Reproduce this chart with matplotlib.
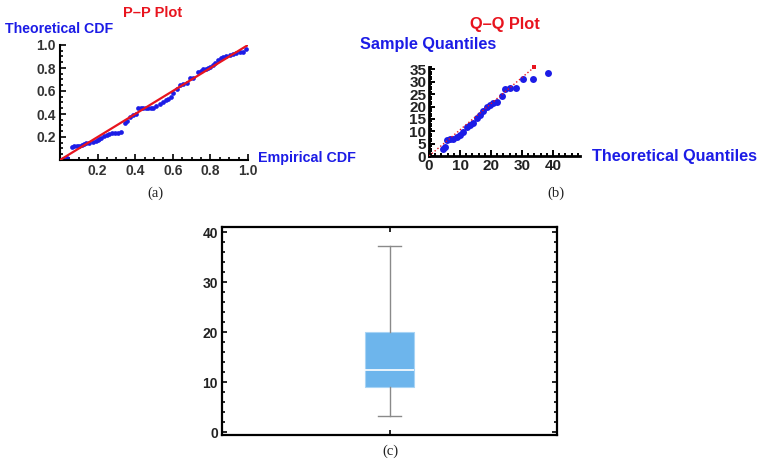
import matplotlib
matplotlib.use("Agg")
import matplotlib.pyplot as plt
from matplotlib.ticker import MultipleLocator

plt.rcParams['font.family'] = ['Liberation Sans', 'DejaVu Sans']

# P-P plot data (empirical vs theoretical CDF)
pp_emp = [0.018, 0.035, 0.062, 0.075, 0.088, 0.1, 0.115, 0.128, 0.14, 0.155,
          0.177, 0.19, 0.2, 0.21, 0.22, 0.235, 0.25, 0.262, 0.274, 0.29,
          0.31, 0.327, 0.345, 0.358, 0.37, 0.39, 0.405, 0.416, 0.43, 0.442,
          0.456, 0.469, 0.483, 0.496, 0.513, 0.53, 0.549, 0.562, 0.575, 0.59,
          0.60, 0.62, 0.637, 0.655, 0.673, 0.69, 0.71, 0.735, 0.748, 0.761,
          0.775, 0.788, 0.8, 0.814, 0.827, 0.84, 0.855, 0.867, 0.885, 0.903,
          0.92, 0.938, 0.955, 0.973, 0.991]
pp_theo = [0.006, 0.014, 0.116, 0.118, 0.122, 0.126, 0.13, 0.138, 0.145, 0.152,
           0.16, 0.168, 0.174, 0.18, 0.19, 0.205, 0.217, 0.225, 0.232, 0.232,
           0.232, 0.246, 0.32, 0.335, 0.377, 0.39, 0.40, 0.449, 0.449, 0.449,
           0.449, 0.449, 0.449, 0.455, 0.47, 0.49, 0.507, 0.518, 0.528, 0.55,
           0.58, 0.62, 0.652, 0.665, 0.667, 0.71, 0.715, 0.768, 0.775, 0.788,
           0.795, 0.797, 0.805, 0.826, 0.84, 0.87, 0.885, 0.899, 0.905, 0.913,
           0.92, 0.928, 0.935, 0.942, 0.962]
pp_line = [0, 1]

# Q-Q plot data
qq_theo = [4.4, 5.2, 5.7, 6.8, 7.8, 8.9, 10.0, 11.1, 12.2, 13.2, 14.3, 15.4, 16.5,
           17.5, 18.6, 19.7, 20.8, 21.8, 23.4, 24.5, 26.1, 28.1, 30.2, 33.4, 38.4]
qq_samp = [2.7, 3.8, 6.5, 6.8, 7.0, 7.6, 8.5, 9.9, 11.6, 12.6, 13.5, 15.3, 16.6,
           18.0, 19.7, 20.7, 21.4, 22.0, 24.3, 27.0, 27.4, 27.4, 31.1, 31.1, 33.5]
qq_line_x = [0, 34]
qq_line_y = [0, 36]

# box plot summary
box_stats = dict(whislo=3.2, q1=9.0, med=12.5, q3=20.0, whishi=37.2)

BLUE = '#1c1ce6'
RED = '#e8141e'
TICKC = '#333333'

fig = plt.figure(figsize=(7.65, 4.69), dpi=100)

def fx(px):
    return px / 765.0

def fy(py):
    return 1 - py / 469.0

# ---- (a) P-P plot
ax1 = fig.add_axes([fx(60), fy(160), fx(188), 115 / 469.0])
ax1.plot(pp_line, pp_line, color=RED, lw=1.6, zorder=3)
ax1.plot(pp_emp, pp_theo, 'o', color=BLUE, ms=3.4, mew=0, zorder=2)
ax1.set_xlim(0, 1)
ax1.set_ylim(0, 1)
ax1.set_xticks([0.2, 0.4, 0.6, 0.8, 1.0])
ax1.set_yticks([0.2, 0.4, 0.6, 0.8, 1.0])
ax1.xaxis.set_minor_locator(MultipleLocator(0.05))
ax1.yaxis.set_minor_locator(MultipleLocator(0.05))
for s in ['top', 'right']:
    ax1.spines[s].set_visible(False)
for s in ['left', 'bottom']:
    ax1.spines[s].set_linewidth(1.5)
ax1.tick_params(which='both', direction='in', width=1.2, colors='black',
                labelcolor=TICKC, labelsize=10, pad=3)
ax1.tick_params(which='major', length=4)
ax1.tick_params(which='minor', length=2)
for t in ax1.get_xticklabels() + ax1.get_yticklabels():
    t.set_fontweight('bold')

fig.text(fx(5), fy(29), 'Theoretical CDF', color=BLUE, fontsize=10.2,
         fontweight='bold', ha='left', va='center')
fig.text(fx(153), fy(13), 'P\u2013P Plot', color=RED, fontsize=10.5,
         fontweight='bold', ha='center', va='center')
fig.text(fx(258), fy(158), 'Empirical CDF', color=BLUE, fontsize=10.3,
         fontweight='bold', ha='left', va='center')

# ---- (b) Q-Q plot
ax2 = fig.add_axes([fx(429), fy(156), fx(151), 89 / 469.0])
ax2.plot(qq_line_x, qq_line_y, ':', color=RED, lw=1.0, zorder=3)
ax2.plot(qq_line_x[-1:], qq_line_y[-1:], 's', color=RED, ms=3.5, mew=0,
         clip_on=False, zorder=3)
ax2.plot(qq_theo, qq_samp, 'o', color=BLUE, ms=5, mew=0, zorder=2)
ax2.set_xlim(0, 48.7)
ax2.set_ylim(0, 36)
ax2.set_xticks([0, 10, 20, 30, 40])
ax2.set_yticks([0, 5, 10, 15, 20, 25, 30, 35])
ax2.xaxis.set_minor_locator(MultipleLocator(2))
ax2.yaxis.set_minor_locator(MultipleLocator(1))
for s in ['top', 'right']:
    ax2.spines[s].set_visible(False)
for s in ['left', 'bottom']:
    ax2.spines[s].set_linewidth(2.0)
ax2.tick_params(which='both', direction='in', width=1.4, colors='black',
                labelcolor='#222222', labelsize=11, pad=2)
ax2.tick_params(which='major', length=4)
ax2.tick_params(which='minor', length=2.5)
for t in ax2.get_xticklabels() + ax2.get_yticklabels():
    t.set_fontweight('bold')

fig.text(fx(360), fy(44), 'Sample Quantiles', color=BLUE, fontsize=11.7,
         fontweight='bold', ha='left', va='center')
fig.text(fx(505), fy(25), 'Q\u2013Q Plot', color=RED, fontsize=11.8,
         fontweight='bold', ha='center', va='center')
fig.text(fx(592), fy(157), 'Theoretical Quantiles', color=BLUE, fontsize=11.7,
         fontweight='bold', ha='left', va='center')

# ---- (c) box plot
ax3 = fig.add_axes([fx(222), fy(435), fx(335), 208 / 469.0])
bp = ax3.bxp([box_stats], positions=[1], widths=0.29, showfliers=False,
             patch_artist=True, capwidths=0.14,
             boxprops=dict(facecolor='#6db5ec', edgecolor='#a8d4f5', lw=0.8),
             medianprops=dict(color='white', lw=1.2),
             whiskerprops=dict(color='#8a8a8a', lw=1.0),
             capprops=dict(color='#8a8a8a', lw=1.0))
ax3.set_xlim(0, 2)
ax3.set_ylim(-0.6, 41)
ax3.set_xticks([1])
ax3.set_xticklabels([''])
ax3.set_yticks([0, 10, 20, 30, 40])
ax3.yaxis.set_minor_locator(MultipleLocator(2))
for s in ax3.spines.values():
    s.set_linewidth(1.6)
ax3.tick_params(which='both', direction='in', width=1.2, colors='black',
                labelcolor='#222222', labelsize=10, right=True, top=True,
                pad=3)
ax3.tick_params(which='major', length=3.5)
ax3.tick_params(which='minor', length=2)
for t in ax3.get_yticklabels():
    t.set_fontweight('bold')

# captions
for x, y, s in [(155, 193, '(a)'), (556, 193, '(b)'), (390, 451, '(c)')]:
    fig.text(fx(x), fy(y), s, family=['Liberation Serif', 'DejaVu Serif'],
             fontsize=10.5, ha='center', va='center', color='#222222')

fig.savefig('out.png', dpi=100)
